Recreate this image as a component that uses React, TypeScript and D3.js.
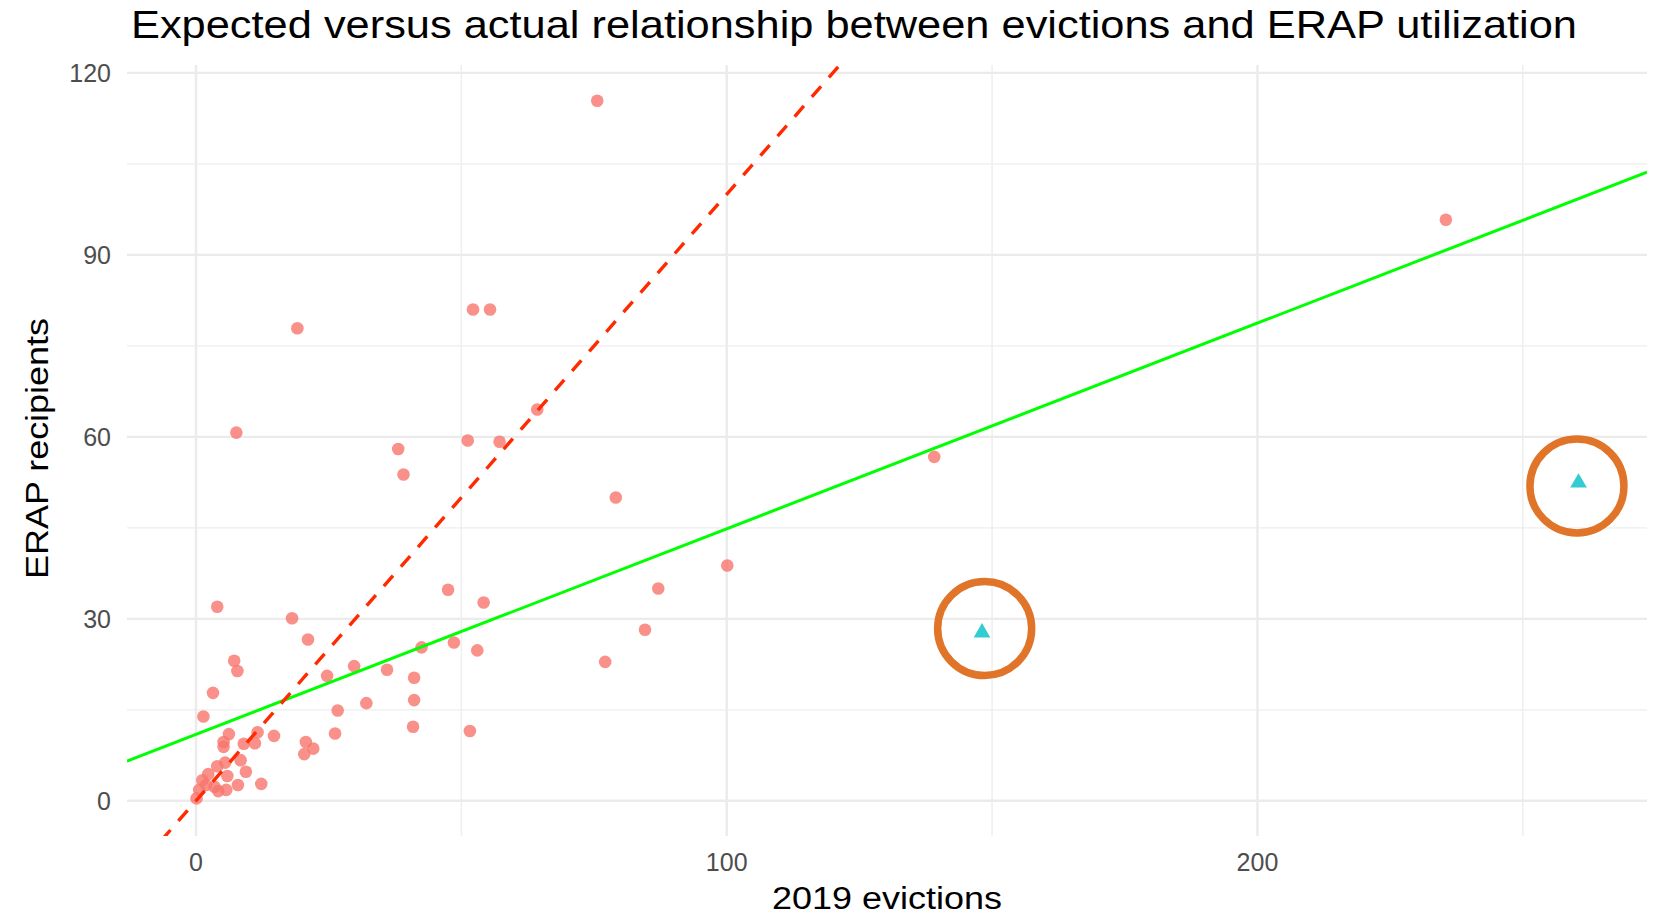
import React, { useEffect, useRef } from 'react';
import * as d3 from 'd3';

// 2019 evictions (x) vs ERAP recipients (y)
const evictions = [
  0.1, 0.6, 1.2, 2.3, 3.5, 4.2, 5.7, 1.9, 4.0, 5.9, 5.5, 7.9, 12.3, 8.4, 9.4, 5.2, 5.2, 6.2, 9.0, 11.1,
  11.6, 14.7, 1.4, 3.2, 7.2, 7.8, 4.0, 18.1, 21.1, 20.4, 20.7, 22.1, 24.7, 26.2, 26.7, 29.8, 32.1, 36.0, 41.1, 41.1,
  40.9, 42.5, 47.5, 48.6, 53.0, 54.2, 51.6, 7.6, 19.1, 52.2, 55.4, 38.1, 39.1, 51.2, 57.2, 64.3, 75.6, 79.1, 77.1, 84.6,
  87.1, 100.1, 139.1, 235.5,
];
const recipients = [
  0.4, 1.8, 3.4, 4.4, 2.3, 1.6, 1.8, 2.6, 5.7, 4.1, 6.3, 2.6, 2.8, 6.7, 4.8, 8.9, 9.7, 11.0, 9.4, 9.5,
  11.3, 10.7, 13.9, 17.8, 23.1, 21.4, 32.0, 30.1, 26.6, 7.7, 9.7, 8.6, 20.6, 11.1, 14.9, 22.2, 16.1, 21.6, 20.3, 16.6,
  12.2, 25.3, 34.8, 26.1, 24.8, 32.7, 11.5, 60.7, 77.9, 81.0, 81.0, 58.0, 53.8, 59.4, 59.2, 64.5, 115.4, 50.0, 22.9, 28.2,
  35.0, 38.8, 56.7, 95.8,
];

// highlighted outliers (triangles)
const outlierEvictions = [148.1, 260.5];
const outlierRecipients = [27.9, 52.6];

// hand-drawn rings around the outliers (centres in data units)
const ringEvictions = [148.6, 260.2];
const ringRecipients = [28.4, 51.9];

// fitted line (green) and expected 1:1 line (red dashed)
const fitIntercept = 10.95;
const fitSlope = 0.339;
const expectedSlope = 1;

const xTicks = [0, 100, 200];
const xMinorTicks = [50, 150, 250];
const yTicks = [0, 30, 60, 90, 120];
const yMinorTicks = [15, 45, 75, 105];

const title = 'Expected versus actual relationship between evictions and ERAP utilization';
const xTitle = '2019 evictions';
const yTitle = 'ERAP recipients';

const App: React.FC = () => {
  const chartRef = useRef<SVGSVGElement | null>(null);

  useEffect(() => {
    if (!chartRef.current) return;
    const svg = d3.select(chartRef.current);
    svg.selectAll('*').remove();

    const font = '"Liberation Sans", Arial, sans-serif';
    const panel = { left: 127, right: 1647, top: 65, bottom: 836 };

    const x = d3.scaleLinear().domain([-13.0, 273.4]).range([panel.left, panel.right]);
    const y = d3.scaleLinear().domain([-5.8, 121.3]).range([panel.bottom, panel.top]);

    svg.append('defs').append('clipPath').attr('id', 'panel-clip')
      .append('rect')
      .attr('x', panel.left)
      .attr('y', panel.top)
      .attr('width', panel.right - panel.left)
      .attr('height', panel.bottom - panel.top);

    // grid
    const grid = svg.append('g');
    grid.selectAll('.hminor').data(yMinorTicks).enter().append('line')
      .attr('x1', panel.left).attr('x2', panel.right)
      .attr('y1', d => y(d)).attr('y2', d => y(d))
      .attr('stroke', '#EEEEEE').attr('stroke-width', 1.4);
    grid.selectAll('.vminor').data(xMinorTicks).enter().append('line')
      .attr('y1', panel.top).attr('y2', panel.bottom)
      .attr('x1', d => x(d)).attr('x2', d => x(d))
      .attr('stroke', '#EEEEEE').attr('stroke-width', 1.4);
    grid.selectAll('.hmajor').data(yTicks).enter().append('line')
      .attr('x1', panel.left).attr('x2', panel.right)
      .attr('y1', d => y(d)).attr('y2', d => y(d))
      .attr('stroke', '#EBEBEB').attr('stroke-width', 2.4);
    grid.selectAll('.vmajor').data(xTicks).enter().append('line')
      .attr('y1', panel.top).attr('y2', panel.bottom)
      .attr('x1', d => x(d)).attr('x2', d => x(d))
      .attr('stroke', '#EBEBEB').attr('stroke-width', 2.4);

    const plot = svg.append('g').attr('clip-path', 'url(#panel-clip)');

    // points
    const pts = evictions.map((e, i) => ({ e, r: recipients[i] }));
    plot.selectAll('.pt').data(pts).enter().append('circle')
      .attr('cx', d => x(d.e))
      .attr('cy', d => y(d.r))
      .attr('r', 6.3)
      .attr('fill', '#F8766D')
      .attr('fill-opacity', 0.8);

    const tri = d3.symbol().type(d3.symbolTriangle).size(120);
    const outs = outlierEvictions.map((e, i) => ({ e, r: outlierRecipients[i] }));
    plot.selectAll('.tri').data(outs).enter().append('path')
      .attr('d', tri)
      .attr('transform', d => `translate(${x(d.e)},${y(d.r) + 1})`)
      .attr('fill', '#00BFC4')
      .attr('fill-opacity', 0.8);

    // lines
    const dom = x.domain();
    const line = d3.line<number>().x(d => x(d));
    plot.append('path')
      .datum(dom)
      .attr('d', line.y(d => y(fitIntercept + fitSlope * d)))
      .attr('fill', 'none')
      .attr('stroke', '#00FF00')
      .attr('stroke-width', 3);
    plot.append('path')
      .datum(dom)
      .attr('d', line.y(d => y(expectedSlope * d)))
      .attr('fill', 'none')
      .attr('stroke', '#FF2A00')
      .attr('stroke-width', 3.4)
      .attr('stroke-dasharray', '14,12');

    // annotation rings
    const rings = ringEvictions.map((e, i) => ({ e, r: ringRecipients[i] }));
    svg.selectAll('.ring').data(rings).enter().append('circle')
      .attr('cx', d => x(d.e))
      .attr('cy', d => y(d.r))
      .attr('r', 47)
      .attr('fill', 'none')
      .attr('stroke', '#E07428')
      .attr('stroke-width', 7.5);

    // tick labels
    svg.selectAll('.ylab').data(yTicks).enter().append('text')
      .attr('x', 111)
      .attr('y', d => y(d))
      .attr('dy', '0.36em')
      .attr('text-anchor', 'end')
      .attr('font-family', font)
      .attr('font-size', 25)
      .attr('fill', '#4D4D4D')
      .text(d => d);
    svg.selectAll('.xlab').data(xTicks).enter().append('text')
      .attr('x', d => x(d))
      .attr('y', 871)
      .attr('text-anchor', 'middle')
      .attr('font-family', font)
      .attr('font-size', 25)
      .attr('fill', '#4D4D4D')
      .text(d => d);

    // titles
    svg.append('text')
      .attr('x', 131)
      .attr('y', 38)
      .attr('font-family', font)
      .attr('font-size', 38.5)
      .attr('fill', '#000')
      .attr('textLength', 1446)
      .attr('lengthAdjust', 'spacingAndGlyphs')
      .text(title);
    svg.append('text')
      .attr('x', 772)
      .attr('y', 909)
      .attr('font-family', font)
      .attr('font-size', 31)
      .attr('fill', '#000')
      .attr('textLength', 230)
      .attr('lengthAdjust', 'spacingAndGlyphs')
      .text(xTitle);
    svg.append('text')
      .attr('transform', 'translate(48,579) rotate(-90)')
      .attr('font-family', font)
      .attr('font-size', 31)
      .attr('fill', '#000')
      .attr('textLength', 261)
      .attr('lengthAdjust', 'spacingAndGlyphs')
      .text(yTitle);
  }, []);

  return (
    <svg
      ref={chartRef}
      width="1663"
      height="916"
      style={{ position: 'absolute', left: 0, top: 0, background: '#fff' }}
    ></svg>
  );
};

export default App;
